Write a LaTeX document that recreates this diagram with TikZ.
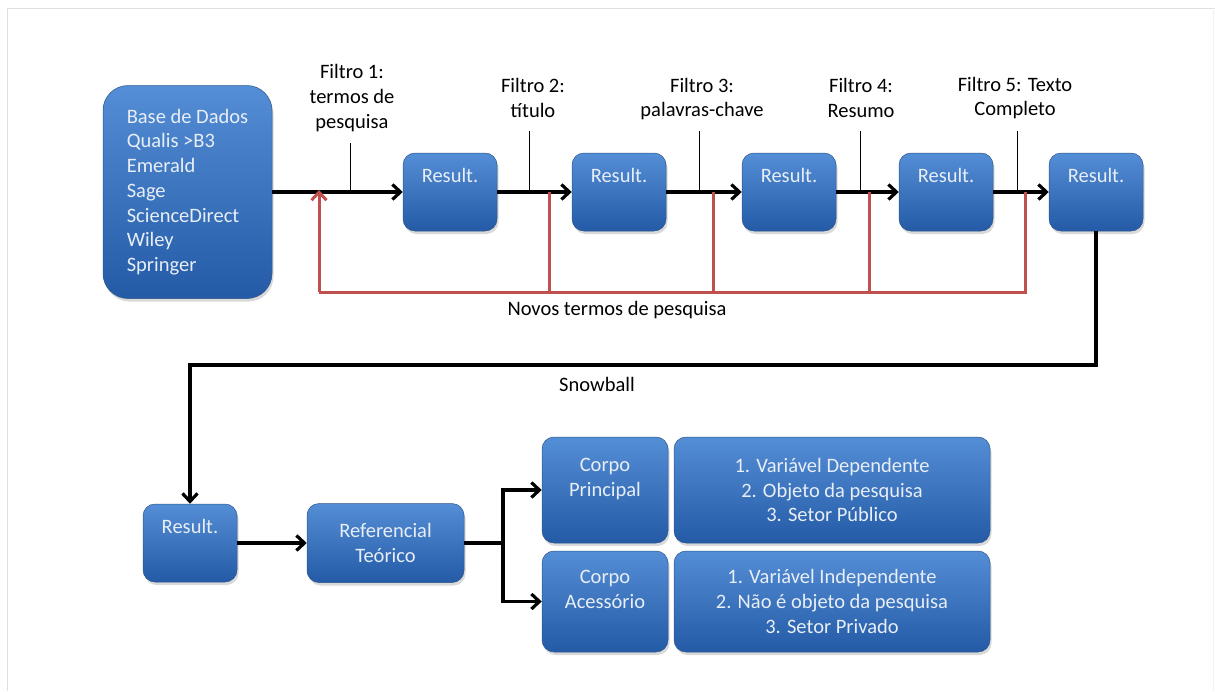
\documentclass[tikz,border=0pt]{standalone}
\usepackage{fontspec}
\setmainfont{Carlito}
\usetikzlibrary{arrows.meta,shadows}

\definecolor{boxtop}{RGB}{84,142,214}
\definecolor{boxbot}{RGB}{36,90,166}
\definecolor{boxline}{RGB}{44,86,140}
\definecolor{boxtext}{RGB}{232,238,246}
\definecolor{redline}{RGB}{192,80,77}

\begin{document}
\begin{tikzpicture}[x=1pt,y=-1pt,
  blok/.style={draw=boxline,line width=0.5pt,rounded corners=12pt,
    top color=boxtop,bottom color=boxbot,text=boxtext,inner sep=0pt,
    font=\fontsize{20.5}{24.7}\selectfont,
    drop shadow={opacity=0.3,shadow xshift=1.5pt,shadow yshift=-3pt}},
  res/.style={blok,minimum width=94pt,minimum height=78pt,
    text height=29pt,text depth=49pt},
  corpo/.style={blok,minimum width=126pt,align=center},
  lista/.style={blok,minimum width=316pt,align=center},
  rotulo/.style={inner sep=0pt,align=center,font=\fontsize{20.5}{24.7}\selectfont},
  flow/.style={line width=3.2pt,-{Straight Barb[length=8pt,width=15pt,line width=3.2pt]}},
  flowline/.style={line width=3.2pt},
  fbline/.style={redline,line width=3pt},
  fb/.style={fbline,-{Straight Barb[length=8pt,width=15pt,line width=3pt]}},
  tick/.style={line width=0.8pt}]
\useasboundingbox (0,0) rectangle (1215,691);
\draw[gray!25,line width=1pt] (7,691) -- (7,8) -- (1215,8);
\draw[gray!10,line width=1pt] (1213,8) -- (1213,691);

\node[blok,rounded corners=25pt,minimum width=169pt,minimum height=213pt,align=left] (base) at (187.5,192)
  {Base de Dados\\Qualis >B3\\Emerald\\Sage\\ScienceDirect\\Wiley\\Springer\hspace{4pt}};
\node[res] (r1) at (450,192) {Result.};
\node[res] (r2) at (619,192) {Result.};
\node[res] (r3) at (789,192) {Result.};
\node[res] (r4) at (946,192) {Result.};
\node[res] (r5) at (1096,192) {Result.};

\draw[flow] (base.east |- r1.west) -- (r1.west);
\draw[flow] (r1.east) -- (r2.west);
\draw[flow] (r2.east) -- (r3.west);
\draw[flow] (r3.east) -- (r4.west);
\draw[flow] (r4.east) -- (r5.west);

\node[rotulo] (f1) at (352,98) {Filtro 1:\\termos de\\pesquisa};
\node[rotulo] (f2) at (533,98) {Filtro 2:\\título};
\node[rotulo] (f3) at (702,99) {Filtro 3:\\palavras-chave};
\node[rotulo] (f4) at (861,98) {Filtro 4:\\Resumo};
\node[rotulo] (f5) at (1015,98) {Filtro 5: Texto\\Completo};

\coordinate (t1) at (350,143);
\coordinate (t2) at (529,131);
\coordinate (t3) at (699,131);
\coordinate (t4) at (860,131);
\coordinate (t5) at (1017,131);
\foreach \t in {t1,t2,t3,t4,t5}
  \draw[tick] (\t) -- (\t |- r1.west);

\coordinate (fbk) at (319,292);
\coordinate (k2) at (549,192);
\coordinate (k3) at (713,192);
\coordinate (k4) at (869,192);
\coordinate (k5) at (1025,192);
\foreach \k in {k2,k3,k4}
  \draw[fbline] (\k) -- (\k |- fbk);
\draw[fbline] (k5) -- (k5 |- fbk) -- (fbk);
\draw[fb] (fbk) -- ([yshift=2pt]fbk |- r1.west);
\node[rotulo] (novos) at (617,310) {Novos termos de pesquisa};

\node[res] (r6) at (190,543) {Result.};
\coordinate (sb) at (597,365);
\draw[flow] (r5.south) |- (sb) -| (r6.north);
\node[rotulo] (snow) at (597,384) {Snowball};

\node[blok,minimum width=157pt,minimum height=79pt,align=center] (rt) at (385.5,543) {Referencial\\Teórico};
\draw[flow] (r6.east) -- (rt.west);

\node[corpo,minimum height=106pt] (cp) at (605,490) {Corpo\\Principal\\\mbox{}};
\node[lista,minimum height=106pt] (d1) at (832,490)
  {1. Variável Dependente\\2. Objeto da pesquisa\\3. Setor Público};
\node[corpo,minimum height=101pt] (ca) at (605,601.5) {Corpo\\Acessório\\\mbox{}};
\node[lista,minimum height=101pt] (d2) at (832,601.5)
  {1. Variável Independente\\2. Não é objeto da pesquisa\\3. Setor Privado};

\coordinate (br) at (503,543);
\draw[flowline] (rt.east) -- (br);
\draw[flow] (br) |- (cp.west);
\draw[flow] (br) |- (ca.west);
\end{tikzpicture}
\end{document}
